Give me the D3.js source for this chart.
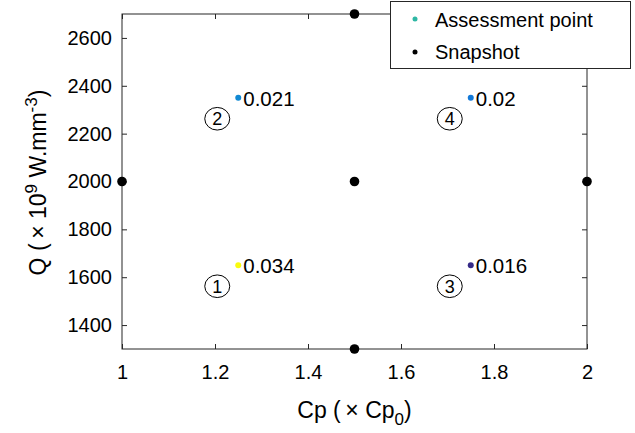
<!DOCTYPE html>
<html>
<head>
<meta charset="utf-8">
<script src="https://cdn.jsdelivr.net/npm/d3@7"></script>
<style>
  body { margin: 0; background: #fff; }
  svg { display: block; font-family: "Liberation Sans", Arial, sans-serif; }
</style>
</head>
<body>
<svg id="chart" width="635" height="433"></svg>
<script>
// Assessment points (Cp multiplier, Q) with their error value and index label
const assessCp = [1.25, 1.25, 1.75, 1.75];
const assessQ = [1650, 2350, 1650, 2350];
const assessErr = [0.034, 0.021, 0.016, 0.02];
const assessErrText = ["0.034", "0.021", "0.016", "0.02"];
const assessId = ["1", "2", "3", "4"];

// Snapshot points
const snapCp = [1, 1.5, 2, 1.5, 1.5];
const snapQ = [2000, 2000, 2000, 2700, 1300];

const xTicks = [1, 1.2, 1.4, 1.6, 1.8, 2];
const yTicks = [1400, 1600, 1800, 2000, 2200, 2400, 2600];

const svg = d3.select("#chart");
const m = { left: 122, right: 587, top: 14, bottom: 349 };

const x = d3.scaleLinear().domain([1, 2]).range([m.left, m.right]);
const y = d3.scaleLinear().domain([1300, 2700]).range([m.bottom, m.top]);

// parula-like colour ramp for the error values
const parula = ["#352a87", "#0f5cdd", "#1481d6", "#06a4ca", "#2eb7a4", "#87bf77", "#d1bb59", "#fec832", "#f9fb0e"];
const color = d3.scaleLinear()
  .domain(parula.map((_, i) => d3.min(assessErr) + i * (d3.max(assessErr) - d3.min(assessErr)) / (parula.length - 1)))
  .range(parula);

const tickLen = 5;
const tickFont = 20;
const ink = "#262626";

// frame
svg.append("rect")
  .attr("x", m.left).attr("y", m.top)
  .attr("width", m.right - m.left).attr("height", m.bottom - m.top)
  .attr("fill", "none").attr("stroke", ink).attr("stroke-width", 1);

// x axis (ticks pointing in)
const xAxis = d3.axisBottom(x).tickValues(xTicks).tickSize(-tickLen).tickPadding(16)
  .tickFormat(d3.format("~g"));
const gx = svg.append("g").attr("transform", `translate(0,${m.bottom})`).call(xAxis);
gx.select(".domain").remove();
gx.selectAll("line").attr("stroke", ink);
gx.selectAll("text").attr("font-size", tickFont).attr("fill", "#000").attr("font-family", "Liberation Sans, Arial, sans-serif");

const gxTop = svg.append("g").attr("transform", `translate(0,${m.top})`)
  .call(d3.axisTop(x).tickValues(xTicks).tickSize(-tickLen).tickFormat(""));
gxTop.select(".domain").remove();
gxTop.selectAll("line").attr("stroke", ink);

// y axis
const yAxis = d3.axisLeft(y).tickValues(yTicks).tickSize(-tickLen).tickPadding(10)
  .tickFormat(d3.format("d"));
const gy = svg.append("g").attr("transform", `translate(${m.left},0)`).call(yAxis);
gy.select(".domain").remove();
gy.selectAll("line").attr("stroke", ink);
gy.selectAll("text").attr("font-size", tickFont).attr("fill", "#000").attr("font-family", "Liberation Sans, Arial, sans-serif");

const gyR = svg.append("g").attr("transform", `translate(${m.right},0)`)
  .call(d3.axisRight(y).tickValues(yTicks).tickSize(-tickLen).tickFormat(""));
gyR.select(".domain").remove();
gyR.selectAll("line").attr("stroke", ink);

// axis titles
const xt = svg.append("text")
  .attr("x", (m.left + m.right) / 2).attr("y", 418)
  .attr("text-anchor", "middle").attr("font-size", 23)
  .attr("xml:space", "preserve");
xt.append("tspan").text("Cp (\u2009\u00d7 Cp");
xt.append("tspan").attr("font-size", 17).attr("dy", 7).text("0");
xt.append("tspan").attr("dy", -7).text(")");

const yt = svg.append("text")
  .attr("transform", `translate(46,${(m.top + m.bottom) / 2 + 1}) rotate(-90)`)
  .attr("text-anchor", "middle").attr("font-size", 23);
yt.append("tspan").text("Q (\u2009\u00d7 10");
yt.append("tspan").attr("font-size", 17).attr("dy", -9).text("9");
yt.append("tspan").attr("dy", 9).text(" W.mm");
yt.append("tspan").attr("font-size", 17).attr("dy", -9).text("-3");
yt.append("tspan").attr("dy", 9).text(")");

// snapshots
svg.append("g").selectAll("circle")
  .data(snapCp.map((c, i) => ({ c, q: snapQ[i] })))
  .join("circle")
  .attr("cx", d => x(d.c)).attr("cy", d => y(d.q))
  .attr("r", 4.8).attr("fill", "#000");

// assessment points
const pts = assessCp.map((c, i) => ({ c, q: assessQ[i], e: assessErr[i], t: assessErrText[i], id: assessId[i] }));
const gp = svg.append("g");
gp.selectAll("circle.pt").data(pts).join("circle").attr("class", "pt")
  .attr("cx", d => x(d.c)).attr("cy", d => y(d.q))
  .attr("r", 3).attr("fill", d => color(d.e));
gp.selectAll("text.val").data(pts).join("text").attr("class", "val")
  .attr("x", d => x(d.c) + 5).attr("y", d => y(d.q) + 8)
  .attr("font-size", 20.5).text(d => d.t);

// circled index labels
const gid = svg.append("g");
gid.selectAll("ellipse").data(pts).join("ellipse")
  .attr("cx", d => x(d.c) - 21).attr("cy", d => y(d.q) + 21)
  .attr("rx", 12.5).attr("ry", 11.3).attr("fill", "none").attr("stroke", "#000").attr("stroke-width", 1);
gid.selectAll("text").data(pts).join("text")
  .attr("x", d => x(d.c) - 21).attr("y", d => y(d.q) + 27.5)
  .attr("text-anchor", "middle").attr("font-size", 18).text(d => d.id);

// legend
const lg = svg.append("g");
lg.append("rect").attr("x", 390.5).attr("y", 1.5).attr("width", 240).attr("height", 67)
  .attr("fill", "#fff").attr("stroke", ink).attr("stroke-width", 1);
lg.append("circle").attr("cx", 415).attr("cy", 19).attr("r", 2.5).attr("fill", color(0.025));
lg.append("text").attr("x", 435).attr("y", 27).attr("font-size", 20).text("Assessment point");
lg.append("circle").attr("cx", 415).attr("cy", 52).attr("r", 2.5).attr("fill", "#000");
lg.append("text").attr("x", 435).attr("y", 59).attr("font-size", 20).text("Snapshot");
</script>
</body>
</html>
